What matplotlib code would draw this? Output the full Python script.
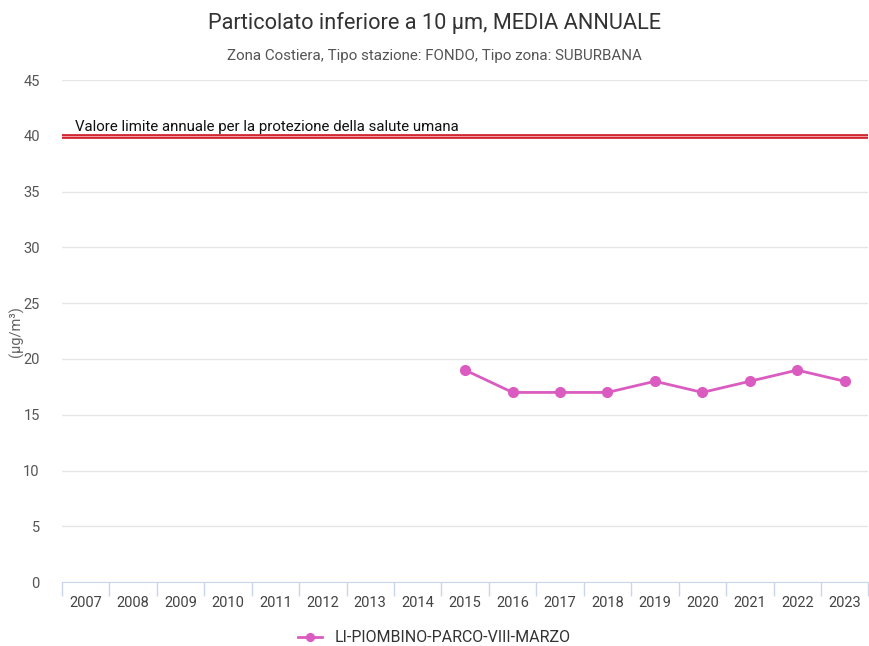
import numpy as np
import matplotlib.pyplot as plt

plt.rcParams['font.family'] = ['Roboto', 'DejaVu Sans']

years = [str(y) for y in range(2007, 2024)]
pm10 = [np.nan] * 8 + [19, 17, 17, 17, 18, 17, 18, 19, 18]
limit_value = 40
station = 'LI-PIOMBINO-PARCO-VIII-MARZO'

fig = plt.figure(figsize=(8.69, 6.46), dpi=100)
ax = fig.add_axes([0.0713, 0.099, 0.928, 0.777])

x = np.arange(len(years))
ax.plot(x, pm10, color='#db5cc0', linewidth=2, marker='o', markersize=7, label=station, zorder=4)

# valore limite
ax.axhline(limit_value, color='#d0202a', linewidth=3.4, zorder=3)
ax.axhline(limit_value, color='#f2a0a6', linewidth=0.8, zorder=3)
ax.text(0.016, limit_value + 0.15, 'Valore limite annuale per la protezione della salute umana',
        transform=ax.get_yaxis_transform(), fontsize=10.8, color='#111111',
        ha='left', va='bottom')

ax.set_xlim(-0.5, len(years) - 0.5)
ax.set_ylim(0, 45)
ax.set_yticks(range(0, 46, 5))
ax.set_xticks(x)
ax.set_xticklabels(years)
ax.set_xticks(np.arange(-0.5, len(years), 1), minor=True)
ax.tick_params(axis='x', which='major', length=0, pad=10, labelsize=10.5, labelcolor='#444444')
ax.tick_params(axis='x', which='minor', length=10, color='#ccd6eb', width=1)
ax.tick_params(axis='y', length=0, pad=16, labelsize=10.5, labelcolor='#555555')
ax.grid(axis='y', color='#e6e6e6', linewidth=1)
ax.set_axisbelow(True)
for s in ['top', 'right', 'left']:
    ax.spines[s].set_visible(False)
ax.spines['bottom'].set_color('#ccd6eb')
ax.set_ylabel('(µg/m³)', fontsize=10.5, color='#666666', va='center')
ax.yaxis.set_label_coords(-0.056, 0.5)

fig.text(0.5, 0.964, 'Particolato inferiore a 10 µm, MEDIA ANNUALE', ha='center', va='center',
         fontsize=15.7, color='#333333')
fig.text(0.5, 0.913, 'Zona Costiera, Tipo stazione: FONDO, Tipo zona: SUBURBANA', ha='center',
         va='center', fontsize=10.9, color='#555555')

fig.legend(loc='center', bbox_to_anchor=(0.5, 0.013), frameon=False, fontsize=11.5,
           handlelength=1.5, markerscale=0.8, labelcolor='#333333')

plt.savefig('out.png', dpi=100)
